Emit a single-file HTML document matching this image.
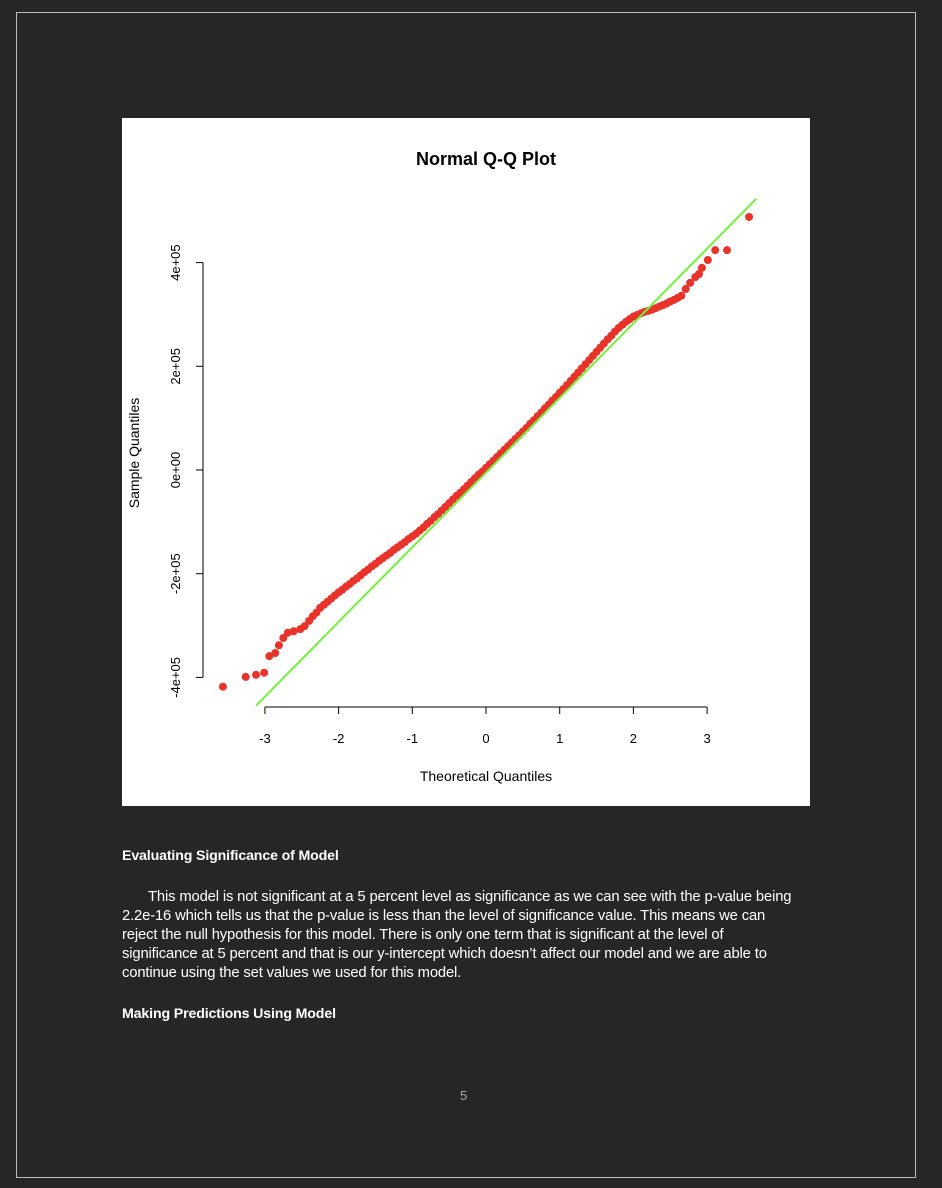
<!DOCTYPE html>
<html><head><meta charset="utf-8"><style>
html,body{margin:0;padding:0;background:#262626;width:942px;height:1188px;overflow:hidden;font-family:"Liberation Sans",sans-serif}
#frame{position:absolute;left:16px;top:12px;width:898px;height:1164px;border:1px solid #bdbdbd}
#chart{position:absolute;left:122px;top:118px;width:688px;height:688px;background:#fff}
.txt{position:absolute;left:122px;color:#fff;font-size:14.8px;white-space:nowrap;letter-spacing:-0.15px}
.b{font-weight:bold;font-size:14.2px}
</style></head><body>
<div id="frame"></div>
<svg id="chart" width="688" height="688" viewBox="122 118 688 688" xmlns="http://www.w3.org/2000/svg"></svg>
<div class="txt b" style="top:848px">Evaluating Significance of Model</div>
<div class="txt" style="top:888px;line-height:19px">
<span style="padding-left:26px">This model is not significant at a 5 percent level as significance as we can see with the p-value being</span><br>2.2e-16 which tells us that the p-value is less than the level of significance value. This means we can<br>reject the null hypothesis for this model. There is only one term that is significant at the level of<br>significance at 5 percent and that is our y-intercept which doesn’t affect our model and we are able to<br>continue using the set values we used for this model.</div>
<div class="txt b" style="top:1006px">Making Predictions Using Model</div>
<div class="txt" style="left:460px;top:1088px;color:#aaa;font-size:13px">5</div>
<script>
const theoretical=[-3.57,-3.26,-3.12,-3.01,-2.94,-2.86,-2.81,-2.75,-2.69,-2.61,-2.52,-2.46,-2.40,-2.35,
-2.30,-2.25,-2.20,-2.15,-2.10,-2.05,-2.00,-1.95,-1.90,-1.85,-1.80,-1.75,-1.70,-1.65,-1.60,-1.55,-1.50,-1.45,-1.40,-1.35,-1.30,-1.25,-1.20,-1.15,-1.10,-1.05,-1.00,-0.95,-0.90,-0.85,-0.80,-0.75,-0.70,-0.65,-0.60,-0.55,-0.50,-0.45,-0.40,-0.35,-0.30,-0.25,-0.20,-0.15,-0.10,-0.05,0,0.05,0.10,0.15,0.20,0.25,0.30,0.35,0.40,0.45,0.50,0.55,0.60,0.65,0.70,0.75,0.80,0.85,0.90,0.95,1.00,1.05,1.10,1.15,1.20,1.25,1.30,1.35,1.40,1.45,1.50,1.55,1.60,1.65,1.70,1.75,1.80,1.85,1.90,1.95,2.00,2.05,2.10,2.15,2.20,2.25,2.30,2.35,2.40,2.45,2.50,2.55,2.60,
2.65,2.71,2.77,2.84,2.89,2.93,3.01,3.11,3.27,3.57];
const sample=[-418,-399,-395,-391,-359,-353,-338,-324,-314,-311,-307,-301,-291,-282,
-275,-266,-260,-254,-248,-242,-236,-231,-225,-220,-214,-209,-203,-197,-192,-186,-181,-175,-170,-165,-160,-154,-149,-144,-139,-133,-128,-123,-117,-111,-104,-98,-91,-85,-78,-71,-64,-57,-50,-44,-37,-30,-23,-16,-9,-3,4,11,18,25,32,39,46,53,60,67,74,81,89,96,104,111,119,126,134,141,149,156,164,172,180,188,196,204,212,220,228,236,244,252,259,267,274,280,286,291,296,299,302,305,307,309,312,315,318,321,325,328,332,
336,349,361,372,378,390,405,424,424,488]; // thousands
const xTicks=[-3,-2,-1,0,1,2,3];
const yTicks=[-400,-200,0,200,400];
const yTickLabels=["-4e+05","-2e+05","0e+00","2e+05","4e+05"];
const lineIntercept=-5, lineSlope=144;
const NS="http://www.w3.org/2000/svg";
const svg=document.getElementById('chart');
const X=q=>486+73.7*q;
const Y=v=>470-v*103.7/200;
function mk(t,a,txt){const e=document.createElementNS(NS,t);for(const k in a)e.setAttribute(k,a[k]);if(txt!=null)e.textContent=txt;svg.appendChild(e);return e;}
let e;
e=mk('text',{x:486,y:165,'text-anchor':'middle','font-size':18,'font-weight':'bold','font-family':'Liberation Sans, sans-serif'},'Normal Q-Q Plot');


e=mk('line',{x1:X(xTicks[0]),x2:X(xTicks[xTicks.length-1]),y1:707,y2:707,stroke:'#000'});


xTicks.forEach(t=>{
 e=mk('line',{x1:X(t),x2:X(t),y1:707,y2:714,stroke:'#000'});
 
 
 e=mk('text',{x:X(t),y:743,'text-anchor':'middle','font-size':13,'font-family':'Liberation Sans, sans-serif'},String(t));
 
 
});
e=mk('line',{x1:203,x2:203,y1:Y(yTicks[0]),y2:Y(yTicks[yTicks.length-1]),stroke:'#000'});


yTicks.forEach((t,i)=>{
 e=mk('line',{x1:196,x2:203,y1:Y(t),y2:Y(t),stroke:'#000'});
 
 
 e=mk('text',{x:180,y:Y(t),'text-anchor':'middle','font-size':13,'font-family':'Liberation Sans, sans-serif',transform:`rotate(-90 180 ${Y(t)})`},yTickLabels[i]);
 
 
});
e=mk('text',{x:486,y:781,'text-anchor':'middle','font-size':14,'font-family':'Liberation Sans, sans-serif'},'Theoretical Quantiles');


e=mk('text',{x:139,y:453,'text-anchor':'middle','font-size':14,'font-family':'Liberation Sans, sans-serif',transform:'rotate(-90 139 453)'},'Sample Quantiles');


theoretical.forEach((q,i)=>{
 e=mk('circle',{cx:X(q),cy:Y(sample[i]),r:4,fill:'#e8332a'});
 
 
});
const q0=-3.12,q1=3.67;
e=mk('line',{x1:X(q0),y1:Y(lineIntercept+lineSlope*q0),x2:X(q1),y2:Y(lineIntercept+lineSlope*q1),stroke:'#74f03c','stroke-width':2});


</script>
</body></html>
